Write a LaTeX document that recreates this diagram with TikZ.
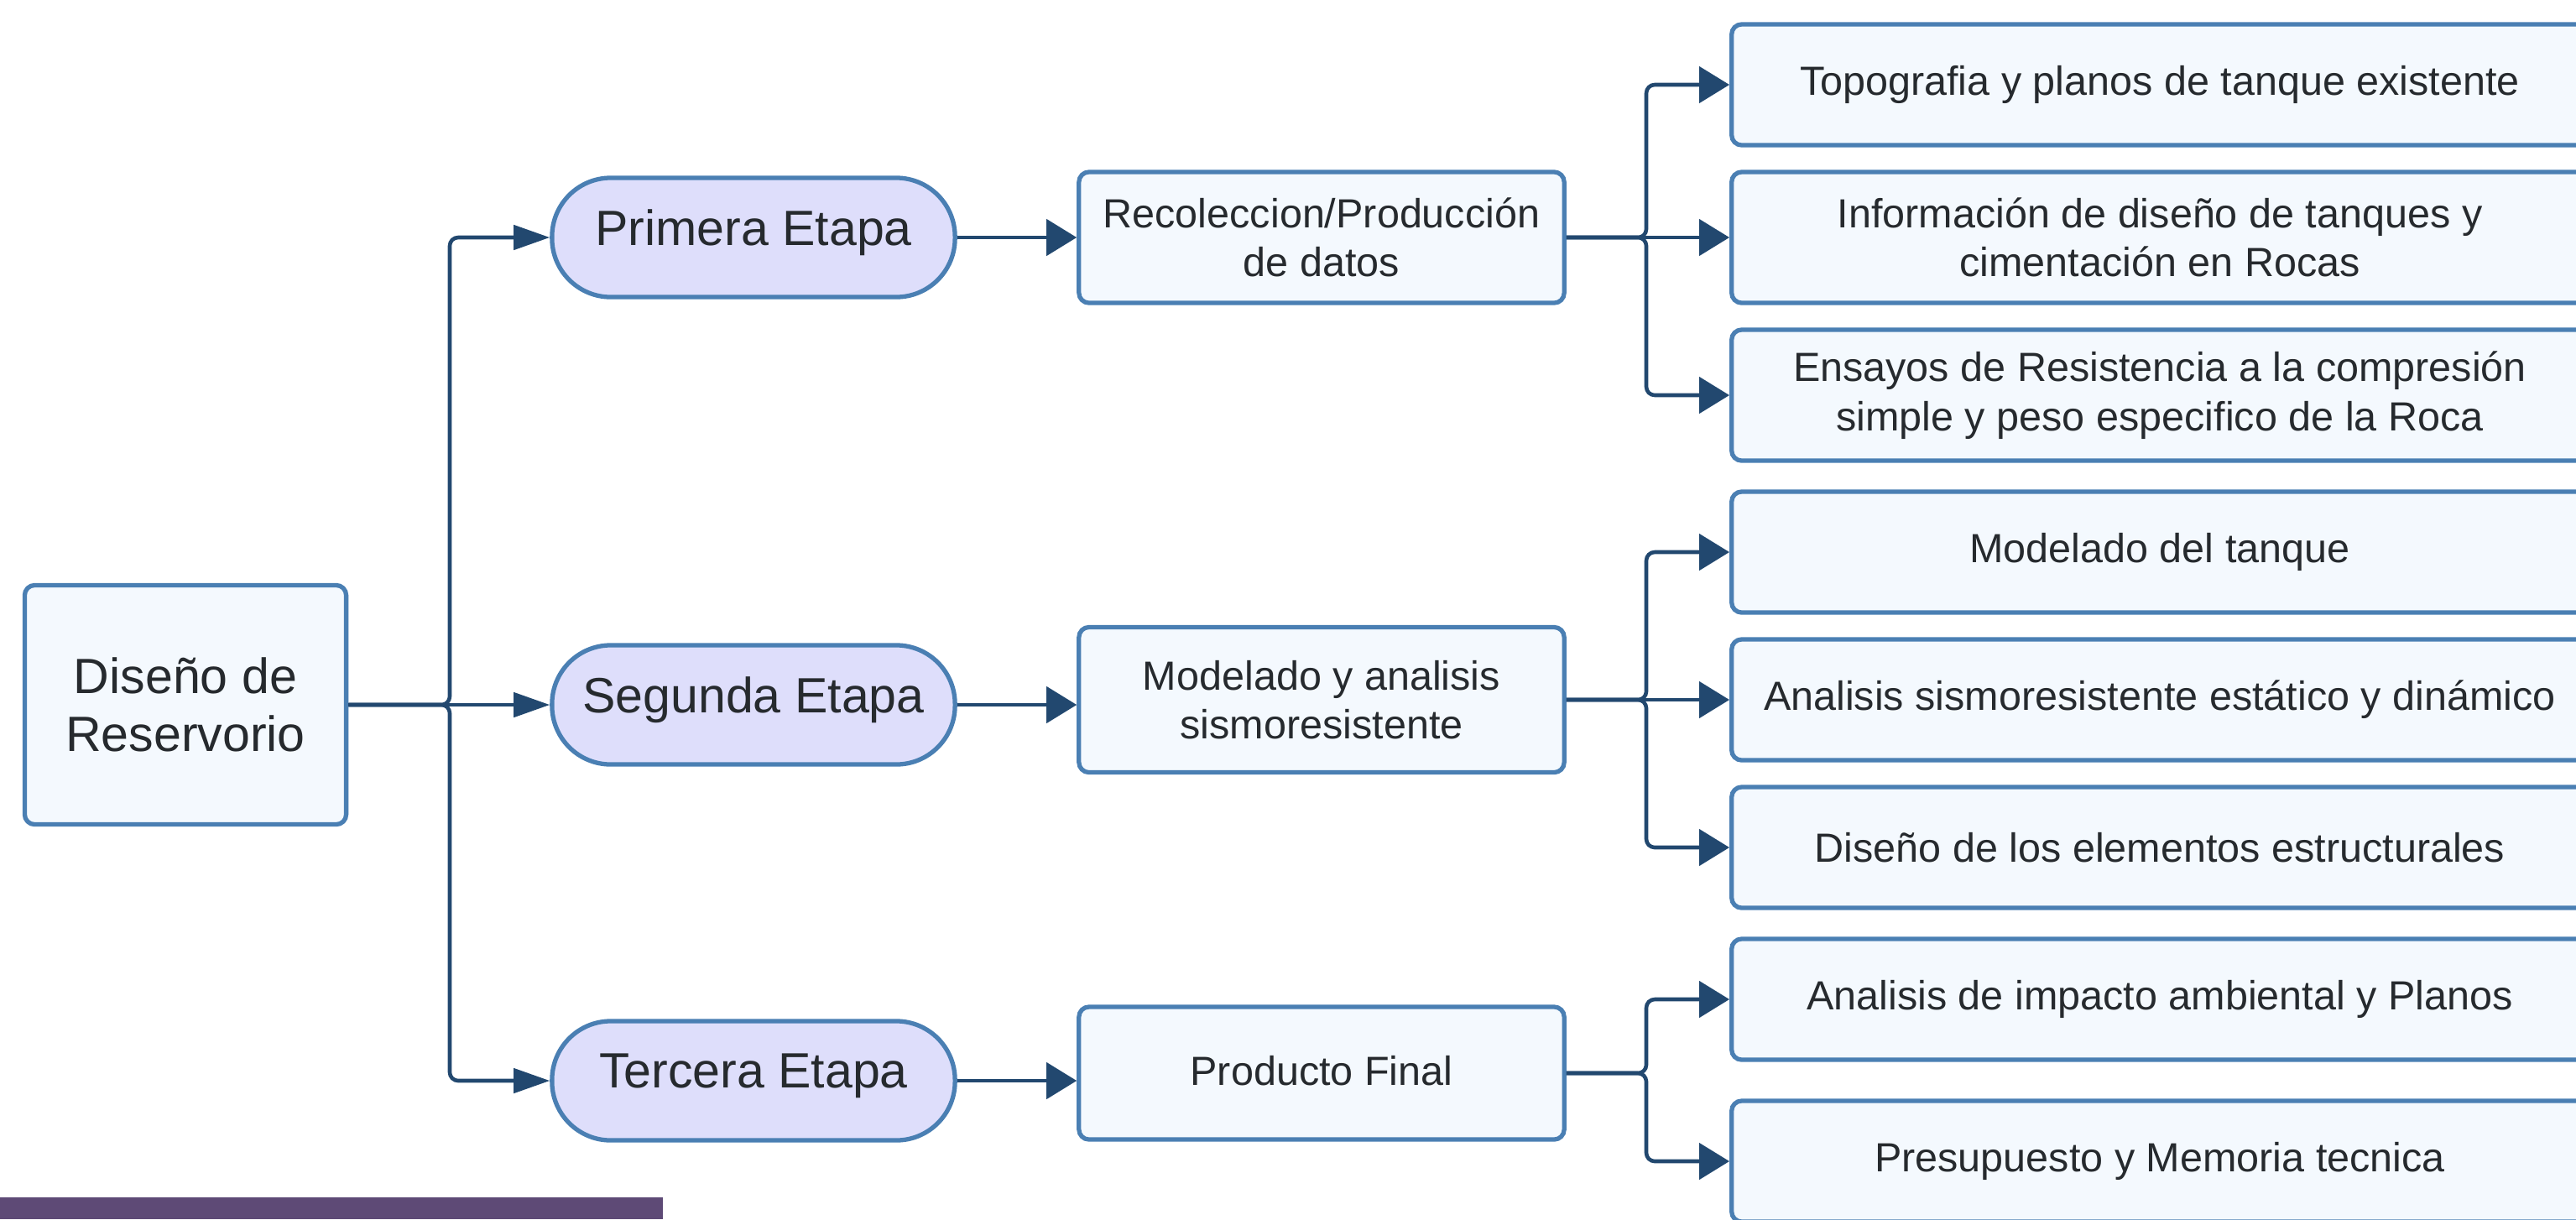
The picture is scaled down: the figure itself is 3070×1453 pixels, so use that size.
\documentclass[tikz,border=0pt]{standalone}
\usepackage{fontspec}
\setmainfont{Liberation Sans}
\usetikzlibrary{arrows.meta,positioning}
\definecolor{ink}{HTML}{262A2E}
\definecolor{edge}{HTML}{4A7FB3}
\definecolor{wire}{HTML}{22486F}
\definecolor{paper}{HTML}{F4F9FE}
\definecolor{lilac}{HTML}{DEDEFB}
\definecolor{plum}{HTML}{5E4A76}

\begin{document}
\begin{tikzpicture}[x=0.01cm, y=-0.01cm,
  box/.style={draw=edge, line width=1.5pt, fill=paper, rounded corners=1.2mm, align=center, text=ink, inner sep=2pt},
  big/.style={font=\fontsize{16.8}{19.6}\selectfont},
  small/.style={font=\fontsize{13.8}{16.6}\selectfont},
  stage/.style={box, big, fill=lilac, rounded corners=7mm, minimum width=4.8cm, minimum height=1.42cm, text depth=7pt},
  midbox/.style={box, small, minimum width=5.78cm},
  leaf/.style={box, small, minimum width=10.2cm, minimum height=1.44cm},
  link/.style={draw=wire, line width=1.3pt, rounded corners=1mm},
  thin tip/.style={-{Triangle[length=4.3mm,width=2.9mm]}},
  wide tip/.style={-{Triangle[length=3.6mm,width=4.3mm]}}]
  \useasboundingbox (0,0) rectangle (3070,1453);
  \clip (0,0) rectangle (3070,1453);

  % root and the three stages
  \node[box, big, minimum width=3.83cm, minimum height=2.85cm] (root) at (221,840) {Diseño de\\Reservorio};
  \node[stage] (pri) at (898,283) {Primera Etapa};
  \node[stage] (seg) at (898,840) {Segunda Etapa};
  \node[stage] (ter) at (898,1288) {Tercera Etapa};

  % what each stage produces
  \node[midbox, minimum height=1.56cm] (rec) at (1575,283) {Recoleccion/Producción\\de datos};
  \node[midbox, minimum height=1.73cm] (mod) at (1575,834) {Modelado y analisis\\sismoresistente};
  \node[midbox, minimum height=1.58cm, text depth=2pt] (fin) at (1575,1279) {Producto Final};

  % tasks
  \node[leaf] (topo) at (2574,101) {Topografia y planos de tanque existente};
  \node[leaf, minimum height=1.56cm] (info) at (2574,283) {Información de diseño de tanques y\\cimentación en Rocas};
  \node[leaf, minimum height=1.56cm] (ensa) at (2574,471) {Ensayos de Resistencia a la compresión\\simple y peso especifico de la Roca};
  \node[leaf] (tanq) at (2574,658) {Modelado del tanque};
  \node[leaf] (sism) at (2574,834) {Analisis sismoresistente estático y dinámico};
  \node[leaf] (elem) at (2574,1010) {Diseño de los elementos estructurales};
  \node[leaf] (impa) at (2574,1191) {Analisis de impacto ambiental y Planos};
  \node[leaf] (pres) at (2574,1384) {Presupuesto y Memoria tecnica};

  % branch points
  \coordinate (jr) at (536,840);
  \coordinate (j1) at (1962,283);
  \coordinate (j2) at (1962,834);
  \coordinate (j3) at (1962,1279);

  \draw[link, thin tip] (root.east) -- (jr) |- (pri.west);
  \draw[link, thin tip] (root.east) -- (seg.west);
  \draw[link, thin tip] (root.east) -- (jr) |- (ter.west);

  \draw[link, wide tip] (pri.east) -- (pri.east -| rec.west);
  \draw[link, wide tip] (seg.east) -- (seg.east -| mod.west);
  \draw[link, wide tip] (ter.east) -- (ter.east -| fin.west);

  \draw[link, wide tip] (rec.east) -- (j1) |- (topo.west);
  \draw[link, wide tip] (rec.east) -- (info.west);
  \draw[link, wide tip] (rec.east) -- (j1) |- (ensa.west);
  \draw[link, wide tip] (mod.east) -- (j2) |- (tanq.west);
  \draw[link, wide tip] (mod.east) -- (sism.west);
  \draw[link, wide tip] (mod.east) -- (j2) |- (elem.west);
  \draw[link, wide tip] (fin.east) -- (j3) |- (impa.west);
  \draw[link, wide tip] (fin.east) -- (j3) |- (pres.west);

  \fill[plum] (0,1427) rectangle (790,1453);
\end{tikzpicture}
\end{document}
